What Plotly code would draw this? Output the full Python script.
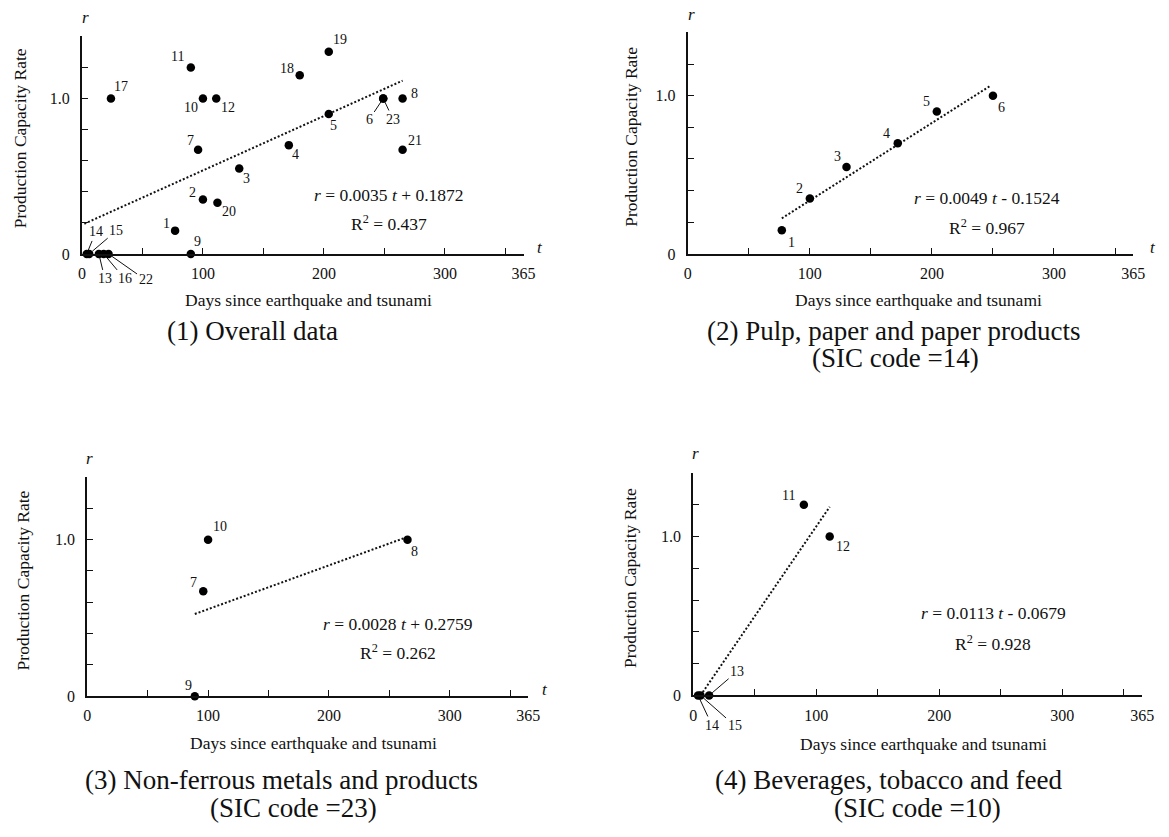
import plotly.graph_objects as go

W, H = 1169, 837
FONT = "Liberation Serif"
INK = "#111111"

# ---------------- data ----------------
# (1) Overall data
p1_id = ["1", "2", "3", "4", "5", "6", "7", "8", "9", "10", "11", "12",
         "13", "14", "15", "16", "17", "18", "19", "20", "21", "22", "23"]
p1_t = [77, 100, 130, 171, 204, 249, 96, 265, 90, 100, 90, 111,
        14, 4, 6, 18, 24, 180, 204, 112, 265, 22, 249]
p1_r = [0.15, 0.35, 0.55, 0.70, 0.90, 1.00, 0.67, 1.00, 0.00, 1.00, 1.20, 1.00,
        0.00, 0.00, 0.00, 0.00, 1.00, 1.15, 1.30, 0.33, 0.67, 0.00, 1.00]
p1_fit = (0.0035, 0.1872)
p1_fit_t = [2, 265]

# (2) Pulp, paper and paper products (SIC 14)
p2_id = ["1", "2", "3", "4", "5", "6"]
p2_t = [77, 100, 130, 172, 204, 250]
p2_r = [0.15, 0.35, 0.55, 0.70, 0.90, 1.00]
p2_fit = (0.0049, -0.1524)
p2_fit_t = [77, 248]

# (3) Non-ferrous metals and products (SIC 23)
p3_id = ["7", "8", "9", "10"]
p3_t = [96, 265, 89, 100]
p3_r = [0.67, 1.00, 0.00, 1.00]
p3_fit = (0.0028, 0.2759)
p3_fit_t = [89, 265]

# (4) Beverages, tobacco and feed (SIC 10)
p4_id = ["11", "12", "13", "14", "15"]
p4_t = [90, 111, 13, 4, 6]
p4_r = [1.20, 1.00, 0.00, 0.00, 0.00]
p4_fit = (0.0113, -0.0679)
p4_fit_t = [6, 111]

x_tickvals = [0, 50, 100, 150, 200, 250, 300, 350, 365]
x_ticktext = ["0", "", "100", "", "200", "", "300", "", "365"]
y_tickvals = [0, 0.2, 0.4, 0.6, 0.8, 1.0, 1.2, 1.4]
y_ticktext = ["0", "", "", "", "", "1.0", "", ""]

equations = [
    ("<i>r</i> = 0.0035 <i>t</i> + 0.1872", "R<sup>2</sup> = 0.437"),
    ("<i>r</i> = 0.0049 <i>t</i> - 0.1524", "R<sup>2</sup> = 0.967"),
    ("<i>r</i> = 0.0028 <i>t</i> + 0.2759", "R<sup>2</sup> = 0.262"),
    ("<i>r</i> = 0.0113 <i>t</i> - 0.0679", "R<sup>2</sup> = 0.928"),
]
titles = [
    ["(1) Overall data"],
    ["(2) Pulp, paper and paper products", "(SIC code =14)"],
    ["(3) Non-ferrous metals and products", "(SIC code =23)"],
    ["(4) Beverages, tobacco and feed", "(SIC code =10)"],
]
x_title = "Days since earthquake and tsunami"
y_title = "Production Capacity Rate"

# ---------------- layout / style ----------------
# plot-area pixel boxes (left, right, top, bottom)
boxes = [
    (79.0, 526.8, 36.7, 256.7),
    (693.3, 1145.0, 32.7, 256.7),
    (84.4, 531.6, 482.3, 703.7),
    (698.7, 1154.0, 478.0, 703.0),
]
# label offsets in px (dx right, dy down); leader=True draws a thin line
lab1 = {"1": (-9, -7), "2": (-10, -7), "3": (7, 10), "4": (7, 9), "5": (5, 11),
        "6": (-14, 21, True), "7": (-8, -9), "8": (12, -5), "9": (7, -12),
        "10": (-12, 9), "11": (-13, -11), "12": (12, 9), "13": (6, 25, True),
        "14": (9, -22, True), "15": (27, -23, True), "16": (21, 25, True),
        "17": (10, -12), "18": (-13, -7), "19": (11, -12), "20": (12, 9),
        "21": (12, -9), "22": (37, 26, True), "23": (10, 21, True)}
lab2 = {"1": (10, 12), "2": (-10, -10), "3": (-9, -10), "4": (-11, -10),
        "5": (-10, -10), "6": (9, 12)}
lab3 = {"7": (-10, -9), "8": (7, 12), "9": (-6, -11), "10": (12, -13)}
lab4 = {"11": (-15, -9), "12": (13, 10), "13": (28, -24, True),
        "14": (14, 30, True), "15": (34, 30, True)}

eq_pos = [((390, 197), (390, 225)), ((997, 200), (997, 229)),
          ((399, 631), (399, 659)), ((1003, 620), (1003, 650))]
title_pos = [[(252, 335)], [(902, 335), (904, 362)],
             [(281, 788), (294, 817)], [(897, 788), (926, 817)]]
xt_pos = [(309, 303), (927, 303), (314, 751), (932, 752)]
yt_pos = [(17, 140), (635, 138), (19, 587), (634, 584)]
r_pos = [(83, 18), (697, 15), (87, 463), (701, 458)]
t_pos = [(543, 250), (1165, 250), (549, 697), None]

panels = [
    (p1_id, p1_t, p1_r, p1_fit, p1_fit_t, lab1),
    (p2_id, p2_t, p2_r, p2_fit, p2_fit_t, lab2),
    (p3_id, p3_t, p3_r, p3_fit, p3_fit_t, lab3),
    (p4_id, p4_t, p4_r, p4_fit, p4_fit_t, lab4),
]


def pp(x, y):
    return x / W, 1 - y / H


def paper_text(x, y, text, size, angle=0):
    px_, py_ = pp(x, y)
    return dict(x=px_, y=py_, xref="paper", yref="paper", text=text,
                showarrow=False, xanchor="center", yanchor="middle",
                textangle=angle,
                font=dict(family=FONT, size=size, color=INK))


fig = go.Figure()
annotations = []
layout_axes = {}

for i, (ids, ts, rs, fit, fit_t, labs) in enumerate(panels):
    n = "" if i == 0 else str(i + 1)
    xa, ya = "x" + n, "y" + n
    l, r, t, b = boxes[i]
    layout_axes["xaxis" + n] = dict(
        domain=[l / W, r / W], anchor=ya, range=[0, 365],
        tickvals=x_tickvals, ticktext=x_ticktext, ticks="inside",
        ticklen=6, tickwidth=1.3, tickcolor=INK, showline=True,
        linewidth=2, linecolor=INK, showgrid=False, zeroline=False,
        tickfont=dict(family=FONT, size=16, color=INK), ticklabelstandoff=4,
        fixedrange=True)
    layout_axes["yaxis" + n] = dict(
        domain=[1 - b / H, 1 - t / H], anchor=xa, range=[0, 1.4],
        tickvals=y_tickvals, ticktext=y_ticktext, ticks="inside",
        ticklen=6, tickwidth=1.3, tickcolor=INK, showline=True,
        linewidth=2, linecolor=INK, showgrid=False, zeroline=False,
        tickfont=dict(family=FONT, size=16, color=INK), ticklabelstandoff=7,
        fixedrange=True)

    slope, icpt = fit
    fig.add_trace(go.Scatter(
        x=fit_t, y=[slope * v + icpt for v in fit_t], mode="lines",
        line=dict(color=INK, width=2, dash="2px,2px"),
        xaxis=xa, yaxis=ya, hoverinfo="skip", cliponaxis=False))
    fig.add_trace(go.Scatter(
        x=ts, y=rs, mode="markers", text=ids,
        marker=dict(color="black", size=8.5, line=dict(width=0)),
        xaxis=xa, yaxis=ya, cliponaxis=False))

    for lab, tv, rv in zip(ids, ts, rs):
        off = labs[lab]
        dx, dy = off[0], off[1]
        leader = len(off) > 2
        if leader:
            annotations.append(dict(
                x=tv, y=rv, xref=xa, yref=ya, text=lab, showarrow=True,
                ax=dx, ay=dy, arrowhead=0, arrowwidth=1, arrowcolor=INK,
                standoff=4, font=dict(family=FONT, size=14, color=INK)))
        else:
            annotations.append(dict(
                x=tv, y=rv, xref=xa, yref=ya, text=lab, showarrow=False,
                xanchor="center", yanchor="middle",
                xshift=dx, yshift=-dy,
                font=dict(family=FONT, size=14, color=INK)))

    for txt, pos in zip(equations[i], eq_pos[i]):
        annotations.append(paper_text(pos[0], pos[1], txt, 17.5))
    for txt, pos in zip(titles[i], title_pos[i]):
        annotations.append(paper_text(pos[0], pos[1], txt, 27))
    annotations.append(paper_text(xt_pos[i][0], xt_pos[i][1], x_title, 17.5))
    annotations.append(paper_text(yt_pos[i][0], yt_pos[i][1], y_title, 17.5, -90))
    annotations.append(paper_text(r_pos[i][0], r_pos[i][1], "<i>r</i>", 17))
    if t_pos[i] is not None:
        annotations.append(paper_text(t_pos[i][0], t_pos[i][1], "<i>t</i>", 17))

fig.update_layout(
    width=W, height=H, margin=dict(l=0, r=0, t=0, b=0),
    paper_bgcolor="white", plot_bgcolor="white", showlegend=False,
    font=dict(family=FONT, color=INK), annotations=annotations,
    **layout_axes)

fig.write_html(
    "out.html",
    config={"displayModeBar": False},
    post_script="document.body.style.margin='0';document.body.style.overflow='hidden';",
)
